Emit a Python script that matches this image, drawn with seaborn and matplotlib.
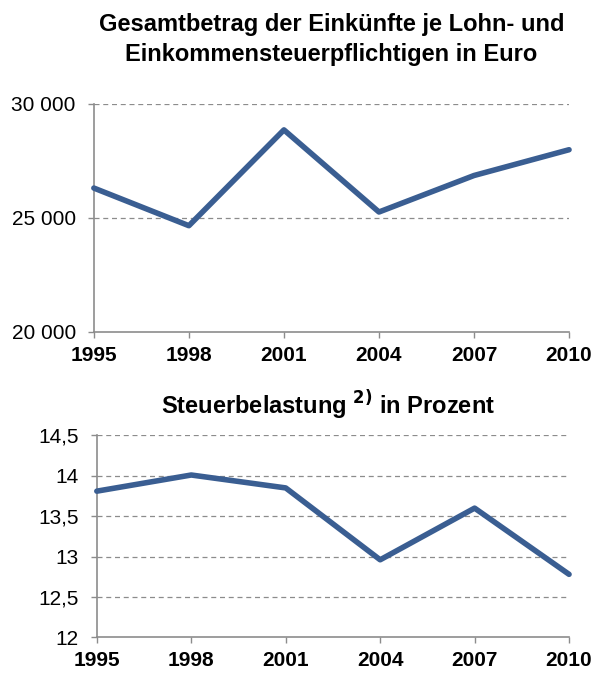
import numpy as np
import matplotlib
matplotlib.use("Agg")
import matplotlib.pyplot as plt
import seaborn as sns

# data
years = [1995, 1998, 2001, 2004, 2007, 2010]
einkuenfte = [26300, 24650, 28850, 25250, 26850, 27980]
belastung = [13.81, 14.01, 13.85, 12.96, 13.60, 12.78]

top_ticks = [20000, 25000, 30000]
top_labels = ["20 000", "25 000", "30 000"]
bot_ticks = [12, 12.5, 13, 13.5, 14, 14.5]
bot_labels = ["12", "12,5", "13", "13,5", "14", "14,5"]

sns.set_style("white")
plt.rcParams['font.family'] = ['Liberation Sans', 'DejaVu Sans']

line_col = "#3A5E92"
grid_col = "#8c8c8c"


def style_axis(ax, ticks, labels, lim):
    """Excel-like look: grey axis lines, dashed grid, bold years."""
    ax.set_xlim(years[0], years[-1])
    ax.set_ylim(*lim)
    ax.set_xticks(years)
    ax.set_xticklabels([str(y) for y in years], fontweight='bold',
                       fontsize=15, color='black')
    ax.set_yticks(ticks)
    ax.set_yticklabels(labels, fontsize=15, color='black')
    for t in ticks[1:]:
        ax.axhline(t, color=grid_col, lw=0.9, ls=(0, (4, 3)), zorder=1)
    for s in ["top", "right"]:
        ax.spines[s].set_visible(False)
    for s in ["left", "bottom"]:
        ax.spines[s].set_color(grid_col)
        ax.spines[s].set_linewidth(1.2)
    ax.tick_params(axis='both', direction='out', length=4, width=1,
                   color=grid_col, left=True, bottom=True)
    ax.tick_params(axis='x', pad=6)
    ax.tick_params(axis='y', pad=9)
    ax.set_xlabel("")
    ax.set_ylabel("")


fig = plt.figure(figsize=(5.94, 6.73), dpi=100)
ax1 = fig.add_axes([0.158, 0.507, 0.800, 0.339])
ax2 = fig.add_axes([0.163, 0.053, 0.795, 0.300])

sns.lineplot(x=years, y=einkuenfte, ax=ax1, color=line_col, lw=4,
             zorder=3, clip_on=False)
style_axis(ax1, top_ticks, top_labels, (20000, 30000))

sns.lineplot(x=years, y=belastung, ax=ax2, color=line_col, lw=4,
             zorder=3, clip_on=False)
style_axis(ax2, bot_ticks, bot_labels, (12, 14.5))

fig.text(0.558, 0.941, "Gesamtbetrag der Einkünfte je Lohn- und\n"
         "Einkommensteuerpflichtigen in Euro", ha='center', va='center',
         fontsize=17, fontweight='bold', linespacing=1.42, color='black')
fig.text(0.552, 0.398, r"Steuerbelastung $^{\mathbf{2)}}$ in Prozent",
         ha='center', va='center', fontsize=17, fontweight='bold',
         color='black')

fig.savefig("out.png", dpi=100)
